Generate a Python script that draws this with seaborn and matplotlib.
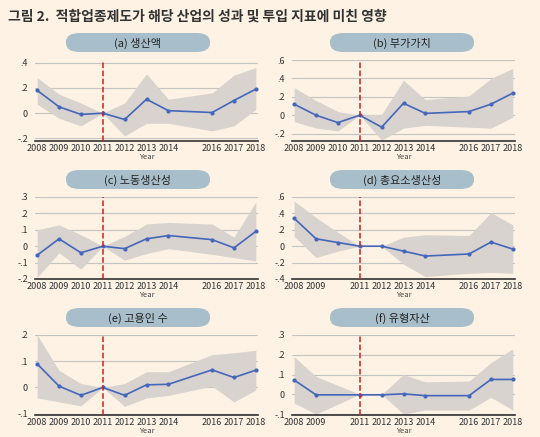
import numpy as np
import pandas as pd
import matplotlib
matplotlib.use("Agg")
import matplotlib.pyplot as plt
import seaborn as sns
from matplotlib.patches import FancyBboxPatch

years_full = [2008, 2009, 2010, 2011, 2012, 2013, 2014, 2016, 2017, 2018]
years_f = [2008, 2009, 2011, 2012, 2013, 2014, 2016, 2017, 2018]

a_est = [0.18, 0.05, -0.01, 0, -0.05, 0.11, 0.02, 0.005, 0.10, 0.19]
a_hi = [0.28, 0.15, 0.08, 0, 0.08, 0.31, 0.11, 0.16, 0.30, 0.36]
a_lo = [0.07, -0.04, -0.10, 0, -0.18, -0.08, -0.08, -0.14, -0.10, 0.03]

b_est = [0.12, 0.0, -0.08, 0, -0.13, 0.13, 0.02, 0.04, 0.12, 0.24]
b_hi = [0.30, 0.16, 0.04, 0, 0.01, 0.38, 0.17, 0.21, 0.40, 0.51]
b_lo = [-0.07, -0.14, -0.17, 0, -0.27, -0.14, -0.11, -0.13, -0.14, -0.02]

c_est = [-0.055, 0.045, -0.04, 0, -0.015, 0.045, 0.065, 0.04, -0.01, 0.09]
c_hi = [0.10, 0.13, 0.07, 0, 0.06, 0.135, 0.145, 0.135, 0.055, 0.27]
c_lo = [-0.19, -0.04, -0.14, 0, -0.085, -0.045, -0.015, -0.05, -0.07, -0.09]

d_est = [0.34, 0.09, 0.045, 0, 0, -0.06, -0.12, -0.095, 0.05, -0.035]
d_hi = [0.55, 0.35, 0.17, 0, 0, 0.11, 0.14, 0.13, 0.41, 0.26]
d_lo = [0.12, -0.14, -0.06, 0, 0, -0.22, -0.37, -0.33, -0.32, -0.33]

e_est = [0.09, 0.005, -0.03, 0, -0.03, 0.01, 0.012, 0.067, 0.038, 0.066]
e_hi = [0.20, 0.065, 0.015, 0, 0.015, 0.06, 0.06, 0.125, 0.132, 0.142]
e_lo = [-0.04, -0.055, -0.07, 0, -0.072, -0.04, -0.03, 0.005, -0.055, -0.01]

f_est = [0.072, -0.003, -0.003, -0.003, 0.002, -0.007, -0.007, 0.075, 0.075]
f_hi = [0.19, 0.09, 0, 0, 0.10, 0.063, 0.067, 0.16, 0.23]
f_lo = [-0.045, -0.10, 0, 0, -0.10, -0.08, -0.08, -0.015, -0.08]

panels = [
    ("(a) 생산액", years_full, a_est, a_lo, a_hi, [-0.2, 0, 0.2, 0.4], (-0.22, 0.42), years_full),
    ("(b) 부가가치", years_full, b_est, b_lo, b_hi, [-0.2, 0, 0.2, 0.4, 0.6], (-0.28, 0.6), years_full),
    ("(c) 노동생산성", years_full, c_est, c_lo, c_hi, [-0.2, -0.1, 0, 0.1, 0.2, 0.3], (-0.2, 0.3), years_full),
    ("(d) 총요소생산성", years_full, d_est, d_lo, d_hi, [-0.4, -0.2, 0, 0.2, 0.4, 0.6], (-0.4, 0.6),
     [y for y in years_full if y != 2010]),
    ("(e) 고용인 수", years_full, e_est, e_lo, e_hi, [-0.1, 0, 0.1, 0.2], (-0.105, 0.2), years_full),
    ("(f) 유형자산", years_f, f_est, f_lo, f_hi, [-0.1, 0, 0.1, 0.2, 0.3], (-0.105, 0.3), years_f),
]

bg = "#fdf2e3"
sns.set_theme(style="white")
plt.rcParams["font.family"] = ["Noto Sans CJK KR", "DejaVu Sans"]

W, H = 540, 437
fig = plt.figure(figsize=(5.4, 4.37), dpi=100, facecolor=bg)
fig.text(8 / W, 1 - 17 / H, "그림 2.  적합업종제도가 해당 산업의 성과 및 투입 지표에 미친 영향",
         fontsize=10, fontweight="bold", color="#333333", va="center")


def fmt(v):
    if abs(v) < 1e-9:
        return "0"
    return f"{v:.1f}".replace("0.", ".")


lefts = [35, 292]
rows = [(60, 141), (197, 279), (335, 415)]
for i, (title, yrs, est, lo, hi, yt, ylim, xt) in enumerate(panels):
    col, row = i % 2, i // 2
    x0 = lefts[col]
    top, bot = rows[row]
    ax = fig.add_axes([x0 / W, 1 - bot / H, 223 / W, (bot - top) / H])
    ax.set_facecolor(bg)
    df = pd.DataFrame({"Year": yrs, "est": est, "lo": lo, "hi": hi})
    ax.fill_between(df["Year"], df["lo"], df["hi"], color="#d8d3ce", lw=0, zorder=1)
    for t in yt:
        ax.axhline(t, color="#c4c4c4", lw=0.8, zorder=0)
    sns.lineplot(data=df, x="Year", y="est", ax=ax, color="#4466bb", lw=1.2,
                 marker="o", markersize=3, markeredgewidth=0, zorder=3)
    ax.axvline(2011, color="#cc2222", ls="--", lw=1.1, zorder=4)
    ax.set_xlim(2007.9, 2018.1)
    ax.set_ylim(*ylim)
    ax.set_yticks(yt)
    ax.set_yticklabels([fmt(t) for t in yt], fontsize=6.5, color="#333333")
    ax.set_xticks(xt)
    ax.set_xticklabels([str(y) for y in xt], fontsize=6.5, color="#333333")
    ax.set_xlabel("Year", fontsize=5.5, color="#444444", labelpad=0)
    ax.set_ylabel("")
    ax.tick_params(axis="y", length=0, pad=5)
    ax.tick_params(axis="x", length=0, pad=2)
    for s in ["top", "right", "left"]:
        ax.spines[s].set_visible(False)
    ax.spines["bottom"].set_color("#333333")
    ax.spines["bottom"].set_linewidth(1.2)
    # pill header
    cx = x0 + 103 if col == 0 else x0 + 110
    pw, ph = 144, 19
    pill = FancyBboxPatch(((cx - pw / 2) / W, 1 - (top - 8) / H), pw / W, ph / H,
                          boxstyle="round,pad=0,rounding_size=0.025",
                          transform=fig.transFigure, facecolor="#a8bfcb",
                          edgecolor="none", mutation_aspect=H / W)
    fig.patches.append(pill)
    fig.text(cx / W, 1 - (top - 17) / H, title, ha="center", va="center",
             fontsize=8, color="#222222")

fig.savefig("out.png", dpi=100, facecolor=bg)
